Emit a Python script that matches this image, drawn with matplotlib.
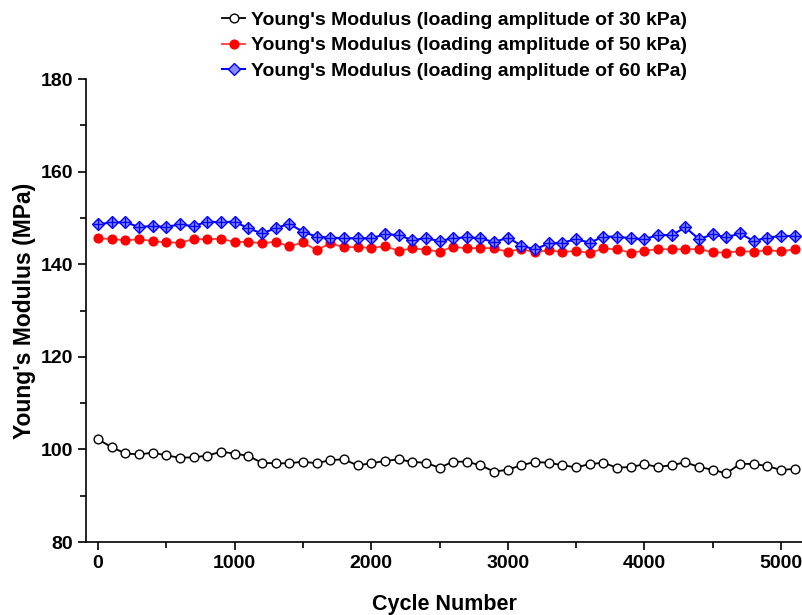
import matplotlib
matplotlib.use("Agg")
import matplotlib.pyplot as plt
from matplotlib.ticker import MultipleLocator
from matplotlib.lines import Line2D

plt.rcParams['font.family'] = ['Liberation Sans', 'DejaVu Sans']
plt.rcParams['font.weight'] = 'bold'

cycles = list(range(0, 5101, 100))

e_30kpa = [102.2, 100.45, 99.15, 98.9, 99.3, 98.7, 98.2, 98.3, 98.65, 99.5,
           99.1, 98.6, 97.1, 97.0, 97.0, 97.35, 97.0, 97.7, 97.85, 96.55,
           97.0, 97.5, 97.85, 97.3, 97.1, 96.05, 97.35, 97.35, 96.55, 95.2,
           95.6, 96.6, 97.3, 97.1, 96.6, 96.1, 96.85, 97.1, 96.05, 96.2,
           96.8, 96.2, 96.6, 97.2, 96.2, 95.6, 94.8, 96.9, 96.85, 96.4,
           95.55, 95.8]

e_50kpa = [145.6, 145.45, 145.15, 145.4, 145.0, 144.7, 144.65, 145.4, 145.4, 145.5,
           144.8, 144.85, 144.5, 144.85, 143.85, 144.7, 143.05, 144.5, 143.7, 143.7,
           143.5, 143.9, 142.9, 143.4, 143.15, 142.7, 143.8, 143.4, 143.55, 143.4,
           142.7, 143.3, 142.55, 143.05, 142.6, 142.9, 142.4, 143.4, 143.2, 142.5,
           142.9, 143.25, 143.2, 143.25, 143.25, 142.6, 142.5, 142.8, 142.7, 143.0,
           142.8, 143.2]

e_60kpa = [148.6, 149.05, 149.05, 148.05, 148.25, 148.05, 148.6, 148.2, 149.2, 149.05,
           149.2, 147.75, 146.65, 147.75, 148.75, 147.0, 145.95, 145.75, 145.6, 145.6,
           145.6, 146.45, 146.3, 145.2, 145.6, 145.0, 145.6, 145.8, 145.6, 144.75,
           145.75, 144.0, 143.2, 144.5, 144.65, 145.4, 144.65, 145.95, 145.95, 145.6,
           145.4, 146.3, 146.3, 147.95, 145.4, 146.45, 145.8, 146.65, 145.0, 145.75,
           146.1, 146.1]

labels = ["Young's Modulus (loading amplitude of 30 kPa)",
          "Young's Modulus (loading amplitude of 50 kPa)",
          "Young's Modulus (loading amplitude of 60 kPa)"]

fig = plt.figure(figsize=(8.03, 6.15), dpi=100)
ax = fig.add_axes([86/803, 1-542/615, 1-86/803, (542-79)/615])

ax.plot(cycles, e_30kpa, color='black', lw=1.3, marker='o', ms=6.3,
        mfc='white', mec='black', mew=1.0)
ax.plot(cycles, e_50kpa, color='#ff3a3a', lw=1.3, marker='o', ms=6.3,
        mfc='red', mec='red')
ax.plot(cycles, e_60kpa, color='blue', lw=1.5)
ax.plot(cycles, e_60kpa, color='blue', lw=0, marker='D', ms=6.3,
        mfc='#8a8aff', mec='blue', mew=1.0)
ax.plot(cycles, e_60kpa, color='blue', lw=0, marker='+', ms=7, mew=1.0)

ax.set_xlim(-88, 5161)
ax.set_ylim(80, 180)
ax.xaxis.set_major_locator(MultipleLocator(1000))
ax.xaxis.set_minor_locator(MultipleLocator(500))
ax.yaxis.set_major_locator(MultipleLocator(20))
ax.yaxis.set_minor_locator(MultipleLocator(10))
ax.tick_params(which='major', direction='out', length=6, width=1.2, labelsize=14)
ax.tick_params(which='minor', direction='out', length=4, width=1.2)
for lab in ax.get_xticklabels() + ax.get_yticklabels():
    lab.set_fontweight('bold')
for s in ['top', 'right']:
    ax.spines[s].set_visible(False)
for s in ['left', 'bottom']:
    ax.spines[s].set_linewidth(1.2)

ax.set_xlabel('Cycle Number', fontsize=15.5, fontweight='bold', labelpad=16)
ax.set_ylabel("Young's Modulus (MPa)", fontsize=16.5, fontweight='bold', labelpad=3)

h0 = Line2D([], [], color='black', lw=1.3, marker='o', ms=6.3, mfc='white', mec='black')
h1 = Line2D([], [], color='#ff3a3a', lw=1.3, marker='o', ms=6.3, mfc='red', mec='red')
h2 = Line2D([], [], color='blue', lw=1.5, marker='D', ms=6.3, mfc='#8a8aff', mec='blue')
leg = fig.legend([h0, h1, h2], labels, loc='upper left',
                 bbox_to_anchor=(222/803, 1-11/615), frameon=False,
                 prop={'size': 14, 'weight': 'bold'}, handlelength=1.2,
                 handletextpad=0.3, labelspacing=0.42, borderpad=0.0,
                 borderaxespad=0.0)

fig.savefig('out.png', dpi=100)
